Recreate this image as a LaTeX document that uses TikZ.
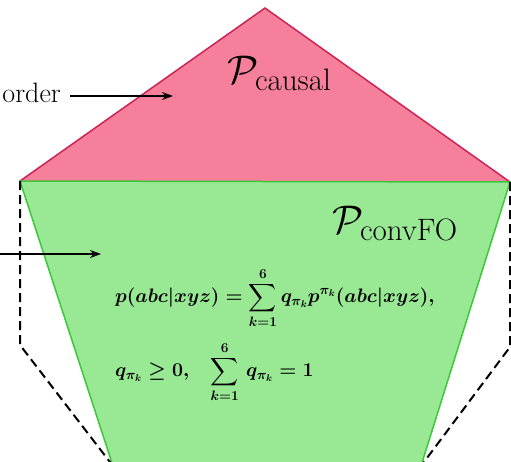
\RequirePackage{fix-cm}
\documentclass[tikz,border=0pt]{standalone}
\usepackage{amsmath,amssymb}
\usetikzlibrary{arrows.meta}
\definecolor{pinkfill}{RGB}{246,128,155}
\definecolor{pinkedge}{RGB}{205,35,85}
\definecolor{greenfill}{RGB}{152,232,148}
\definecolor{greenedge}{RGB}{60,200,60}
\newsavebox{\eqboxa}
\newsavebox{\eqboxb}
\newcommand{\subtxt}[1]{\text{\fontsize{31}{34}\selectfont #1}}
\tikzset{
  region/.style={line width=1.5pt, line join=miter},
  hull/.style={line width=2pt, dash pattern=on 9pt off 5pt, black},
  pointer/.style={-{Stealth[length=11pt,width=8pt]}, line width=1.6pt, black},
  lbl/.style={inner sep=0pt, font=\fontsize{28}{32}\selectfont},
  eqn/.style={inner sep=0pt, anchor=west},
  bigtitle/.style={inner sep=0pt, anchor=base west, font=\fontsize{40}{44}\selectfont},
}
\begin{document}
\begin{tikzpicture}[x=1pt,y=-1pt]
\sbox{\eqboxa}{\fontsize{19.5}{23}\selectfont\mathversion{bold}$p(abc\vert xyz) = \displaystyle\sum_{k=1}^{6} q_{\pi_k} p^{\pi_k}(abc\vert xyz),$}
\sbox{\eqboxb}{\fontsize{19.5}{23}\selectfont\mathversion{bold}$q_{\pi_k} \geq 0,\hspace{0.9em}\displaystyle\sum_{k=1}^{6}\, q_{\pi_k} = 1$}
\useasboundingbox (0,0) rectangle (511,461);
\coordinate (top) at (265,8);
\coordinate (ml) at (20,181);
\coordinate (mr) at (510,182);
\coordinate (bl) at (113,466);
\coordinate (br) at (421,466);
\coordinate (dl) at (20,345);
\coordinate (dr) at (510,347);
\fill[pinkfill] (ml) -- (top) -- (mr) -- cycle;
\draw[region, pinkedge] (ml) -- (top) -- (mr);
\fill[greenfill] (ml) -- (mr) -- (br) -- (bl) -- cycle;
\draw[region, greenedge] (bl) -- (ml) -- (mr) -- (br);
\draw[hull] (ml) -- (dl) -- (bl);
\draw[hull] (mr) -- (dr) -- (br);
\node[lbl, anchor=east] (order) at (61,93) {order};
\coordinate (s1) at (70,96);
\coordinate (t1) at (173,96);
\draw[pointer] (s1) -- (t1);
\coordinate (s2) at (0,254);
\coordinate (t2) at (101,254);
\draw[pointer] (s2) -- (t2);
\node[bigtitle] (causal) at (227,83) {$\mathcal{P}_{\subtxt{causal}}$};
\node[bigtitle] (convfo) at (332,233) {$\mathcal{P}_{\subtxt{convFO}}$};
\node[eqn] (eqa) at (115,298) {\usebox{\eqboxa}};
\node[eqn] (eqb) at (115,372) {\usebox{\eqboxb}};
\end{tikzpicture}
\end{document}
